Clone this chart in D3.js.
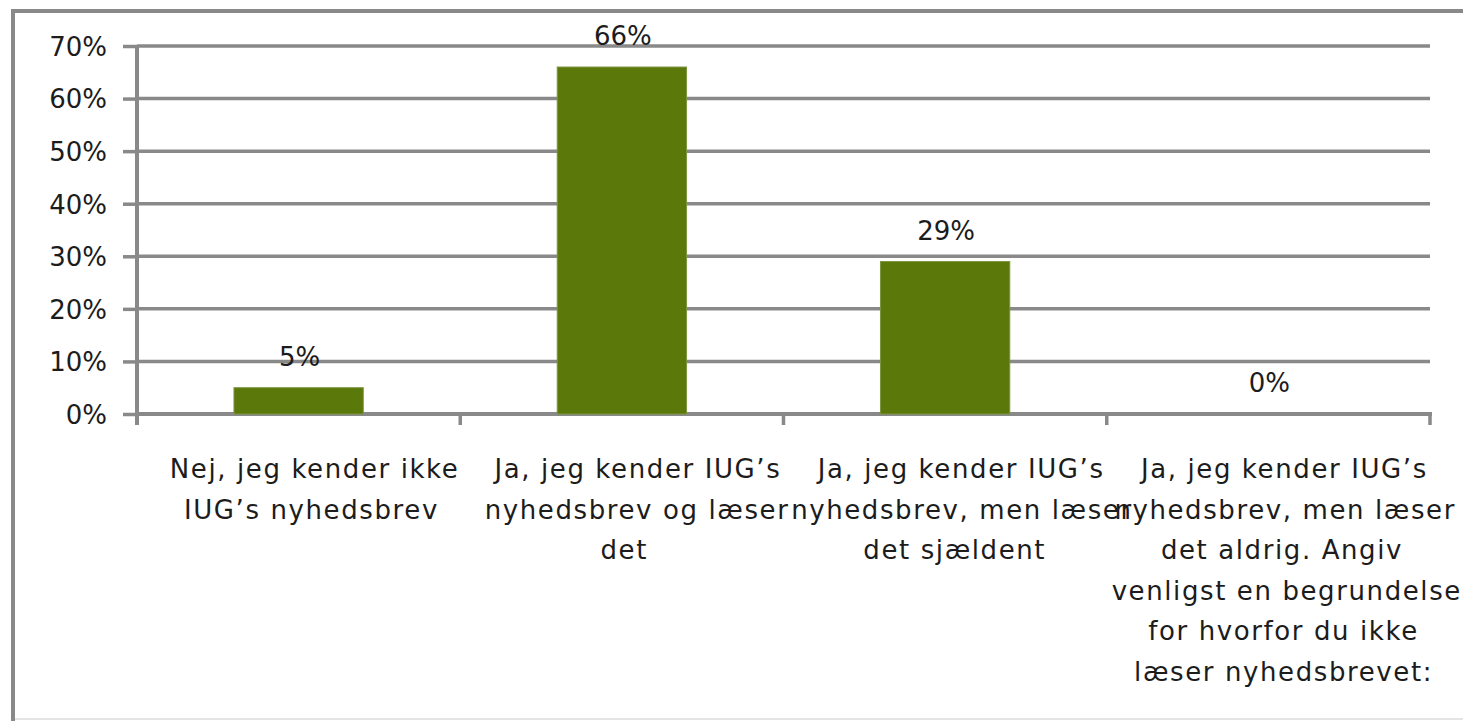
<!DOCTYPE html>
<html>
<head>
<meta charset="utf-8">
<script src="https://cdn.jsdelivr.net/npm/d3@7.9.0/dist/d3.min.js"></script>
<style>
  body { margin: 0; background: #fff; }
  svg { display: block; }
  text { font-family: 'DejaVu Sans', sans-serif; fill: #1c1c1c; }
</style>
</head>
<body>
<svg id="chart" width="1463" height="721"></svg>
<script>
// data
const categories = ['nej', 'ja-laeser', 'ja-sjaeldent', 'ja-aldrig'];
const categoryLines = [
  ['Nej, jeg kender ikke', 'IUG’s nyhedsbrev'],
  ['Ja, jeg kender IUG’s', 'nyhedsbrev og læser', 'det'],
  ['Ja, jeg kender IUG’s', 'nyhedsbrev, men læser', 'det sjældent'],
  ['Ja, jeg kender IUG’s', 'nyhedsbrev, men læser', 'det aldrig. Angiv', 'venligst en begrundelse', 'for hvorfor du ikke', 'læser nyhedsbrevet:']
];
const values = [0.05, 0.66, 0.29, 0];
const yTicks = [0, 0.1, 0.2, 0.3, 0.4, 0.5, 0.6, 0.7];

const gray = '#898989';
const barColor = '#5b790b';

const svg = d3.select('#chart');

// outer frame (cropped on the right)
svg.append('line').attr('x1', 13).attr('x2', 13).attr('y1', 9).attr('y2', 721)
  .attr('stroke', gray).attr('stroke-width', 4);
svg.append('line').attr('x1', 11).attr('x2', 1463).attr('y1', 11).attr('y2', 11)
  .attr('stroke', gray).attr('stroke-width', 4);
svg.append('line').attr('x1', 15).attr('x2', 1463).attr('y1', 719).attr('y2', 719)
  .attr('stroke', '#e4e4e4').attr('stroke-width', 2);

const x = d3.scaleBand().domain(categories).range([137, 1430]).paddingInner(0.6).paddingOuter(0.3);
const y = d3.scaleLinear().domain([0, 0.7]).range([414, 46]);
const step = x.step();
const fmt = d3.format('.0%');

// gridlines
svg.append('g').selectAll('line').data(yTicks.filter(d => d > 0)).join('line')
  .attr('x1', 137).attr('x2', 1430)
  .attr('y1', d => y(d)).attr('y2', d => y(d))
  .attr('stroke', gray).attr('stroke-width', 3.5);

// y axis
const yAxis = svg.append('g').attr('transform', 'translate(137,0)')
  .call(d3.axisLeft(y).tickValues(yTicks).tickFormat(fmt).tickSize(14).tickPadding(16));
yAxis.select('.domain').attr('d', `M0,${y(0.7)}V425`).attr('stroke', gray).attr('stroke-width', 4);
yAxis.selectAll('.tick line').attr('stroke', gray).attr('stroke-width', 3.5);
yAxis.selectAll('.tick text').attr('font-size', 26).attr('font-family', null).attr('fill', '#1c1c1c').attr('dy', '0.36em');

// x axis baseline with ticks at category boundaries
const xAxisG = svg.append('g');
xAxisG.append('line').attr('x1', 137).attr('x2', 1432).attr('y1', y(0)).attr('y2', y(0))
  .attr('stroke', gray).attr('stroke-width', 4);
xAxisG.selectAll('.xtick').data(d3.range(categories.length + 1)).join('line')
  .attr('class', 'xtick')
  .attr('x1', i => 137 + i * step).attr('x2', i => 137 + i * step)
  .attr('y1', y(0)).attr('y2', 425)
  .attr('stroke', gray).attr('stroke-width', 3.5);

// bars
svg.append('g').selectAll('rect').data(values).join('rect')
  .attr('x', (d, i) => x(categories[i]))
  .attr('y', d => y(d))
  .attr('width', x.bandwidth())
  .attr('height', d => y(0) - y(d))
  .attr('fill', barColor)
  .attr('stroke', '#7d9440').attr('stroke-width', 1);

// value labels
svg.append('g').selectAll('text').data(values).join('text')
  .attr('x', (d, i) => x(categories[i]) + x.bandwidth() / 2 + 1)
  .attr('y', d => y(d) - 22)
  .attr('text-anchor', 'middle')
  .attr('font-size', 26)
  .text(d => fmt(d));

// category labels: centred on natural width, then spaced out to the right
categories.forEach((c, i) => {
  const cx = 137 + step * (i + 0.5);
  categoryLines[i].forEach((line, j) => {
    const t = svg.append('text')
      .attr('font-size', 26)
      .attr('y', 478 + j * 40.6)
      .text(line);
    const w = t.node().getComputedTextLength();
    t.attr('x', cx - w / 2).attr('letter-spacing', 1.6);
  });
});
</script>
</body>
</html>
